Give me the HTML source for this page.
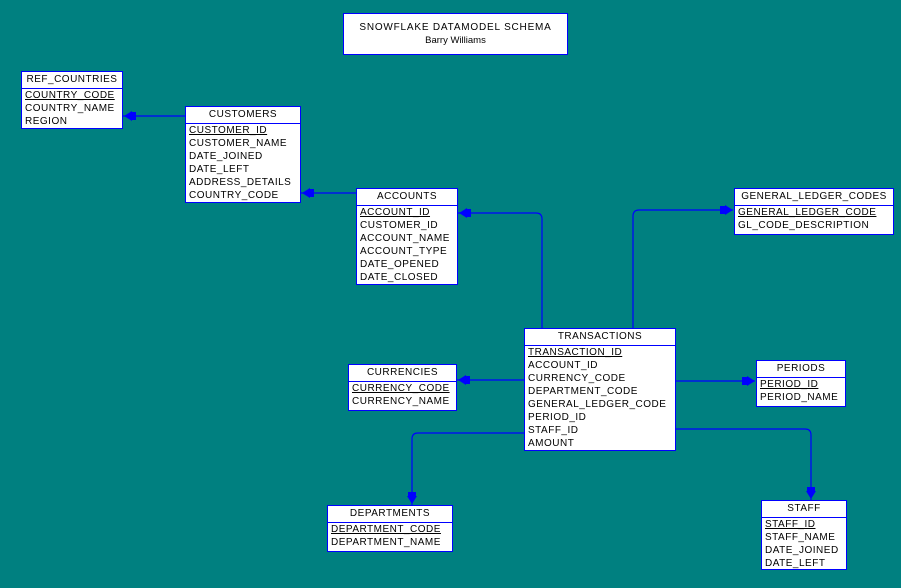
<!DOCTYPE html>
<html><head><meta charset="utf-8"><style>
body{margin:0;width:901px;height:588px;background:#008080;position:relative;overflow:hidden;font-family:"Liberation Sans",sans-serif;}
.t{position:absolute;background:#fff;border:1px solid #0000ff;box-sizing:border-box;font-size:10px;letter-spacing:0.5px;color:#000;}
.h{height:16px;line-height:16px;text-align:center;border-bottom:1px solid #0000ff;}
.r{height:13px;line-height:13px;padding-left:3px;white-space:nowrap;}
.u{text-decoration:underline;}
svg{position:absolute;left:0;top:0;}
</style></head><body>
<svg width="901" height="588" viewBox="0 0 901 588">
<g stroke="#0000ff" stroke-width="1.2" fill="none">
<path d="M185 116 H123"/>
<path d="M356 193 H301"/>
<path d="M542 328 V219 Q542 213 536 213 H458"/>
<path d="M633 328 V216 Q633 210 639 210 H733"/>
<path d="M675 381 H755"/>
<path d="M524 380 H457"/>
<path d="M524 433 H418 Q412 433 412 439 V505"/>
<path d="M675 429 H805 Q811 429 811 435 V500"/>
</g>
<g fill="#0000ff">
<polygon points="124,116 132,111 132,121"/><rect x="131" y="112" width="5" height="8"/>
<polygon points="302,193 310,188 310,198"/><rect x="309" y="189" width="5" height="8"/>
<polygon points="459,213 467,208 467,218"/><rect x="466" y="209" width="5" height="8"/>
<polygon points="733,210 725,205 725,215"/><rect x="720" y="206" width="5" height="8"/>
<polygon points="755,381 747,376 747,386"/><rect x="742" y="377" width="5" height="8"/>
<polygon points="458,380 466,375 466,385"/><rect x="465" y="376" width="5" height="8"/>
<polygon points="412,504 407,496 417,496"/><rect x="408" y="492" width="8" height="5"/>
<polygon points="811,499 806,491 816,491"/><rect x="807" y="487" width="8" height="5"/>
</g>
</svg>

<div class="t" style="left:343px;top:13px;width:225px;height:42px;text-align:center;">
<div style="margin-top:8px;font-size:10px;letter-spacing:0.8px;">SNOWFLAKE DATAMODEL SCHEMA</div>
<div style="font-size:9.5px;letter-spacing:0;margin-top:2px;">Barry Williams</div>
</div>

<div class="t" style="left:21px;top:71px;width:102px;height:58px;"><div class="h">REF_COUNTRIES</div>
<div class="r u">COUNTRY_CODE</div><div class="r">COUNTRY_NAME</div><div class="r">REGION</div></div>

<div class="t" style="left:185px;top:106px;width:116px;height:97px;"><div class="h">CUSTOMERS</div>
<div class="r u">CUSTOMER_ID</div><div class="r">CUSTOMER_NAME</div><div class="r">DATE_JOINED</div><div class="r">DATE_LEFT</div><div class="r">ADDRESS_DETAILS</div><div class="r">COUNTRY_CODE</div></div>

<div class="t" style="left:356px;top:188px;width:102px;height:97px;"><div class="h">ACCOUNTS</div>
<div class="r u">ACCOUNT_ID</div><div class="r">CUSTOMER_ID</div><div class="r">ACCOUNT_NAME</div><div class="r">ACCOUNT_TYPE</div><div class="r">DATE_OPENED</div><div class="r">DATE_CLOSED</div></div>

<div class="t" style="left:734px;top:188px;width:160px;height:47px;"><div class="h">GENERAL_LEDGER_CODES</div>
<div class="r u">GENERAL_LEDGER_CODE</div><div class="r">GL_CODE_DESCRIPTION</div></div>

<div class="t" style="left:524px;top:328px;width:152px;height:123px;"><div class="h">TRANSACTIONS</div>
<div class="r u">TRANSACTION_ID</div><div class="r">ACCOUNT_ID</div><div class="r">CURRENCY_CODE</div><div class="r">DEPARTMENT_CODE</div><div class="r">GENERAL_LEDGER_CODE</div><div class="r">PERIOD_ID</div><div class="r">STAFF_ID</div><div class="r">AMOUNT</div></div>

<div class="t" style="left:348px;top:364px;width:109px;height:47px;"><div class="h">CURRENCIES</div>
<div class="r u">CURRENCY_CODE</div><div class="r">CURRENCY_NAME</div></div>

<div class="t" style="left:756px;top:360px;width:90px;height:47px;"><div class="h">PERIODS</div>
<div class="r u">PERIOD_ID</div><div class="r">PERIOD_NAME</div></div>

<div class="t" style="left:327px;top:505px;width:126px;height:47px;"><div class="h">DEPARTMENTS</div>
<div class="r u">DEPARTMENT_CODE</div><div class="r">DEPARTMENT_NAME</div></div>

<div class="t" style="left:761px;top:500px;width:86px;height:70px;"><div class="h">STAFF</div>
<div class="r u">STAFF_ID</div><div class="r">STAFF_NAME</div><div class="r">DATE_JOINED</div><div class="r">DATE_LEFT</div></div>
</body></html>
